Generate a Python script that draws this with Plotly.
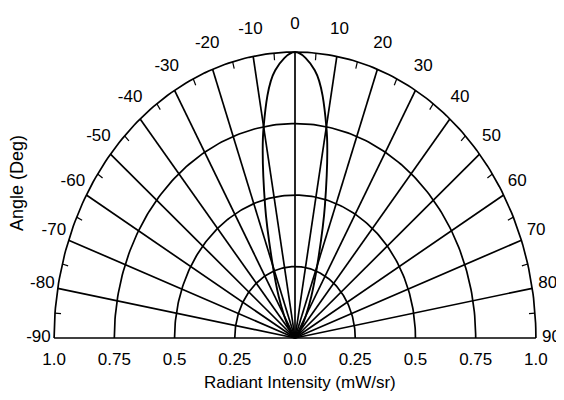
import numpy as np
import plotly.graph_objects as go

# ---- data ----
pattern_angles = [-90, -80, -70, -60, -50, -40, -35, -30, -25, -20, -15, -10, -5, 0,
                  5, 10, 15, 20, 25, 30, 35, 40, 50, 60, 70, 80, 90]
pattern_intensity = [0.0, 0.0, 0.0, 0.005, 0.01, 0.03, 0.05, 0.09, 0.16, 0.27, 0.48, 0.75, 0.94, 1.0,
                     0.94, 0.75, 0.48, 0.27, 0.16, 0.09, 0.05, 0.03, 0.01, 0.005, 0.0, 0.0, 0.0]
angle_ticks = [-90, -80, -70, -60, -50, -40, -30, -20, -10, 0, 10, 20, 30, 40, 50, 60, 70, 80, 90]
angle_labels = [str(a) for a in angle_ticks]
ring_values = [0.25, 0.5, 0.75, 1.0]
minor_angles = [-85, -75, -65, -55, -45, -35, -25, -15, -5, 5, 15, 25, 35, 45, 55, 65, 75, 85]
x_tick_vals = [-1.0, -0.75, -0.5, -0.25, 0.0, 0.25, 0.5, 0.75, 1.0]
x_tick_text = ["1.0", "0.75", "0.5", "0.25", "0.0", "0.25", "0.5", "0.75", "1.0"]


def to_xy(r, deg):
    t = np.radians(np.asarray(deg, dtype=float))
    r = np.asarray(r, dtype=float)
    return r * np.sin(t), r * np.cos(t)


FONT = "Liberation Sans, Arial"
LINE = dict(color="black", width=1.7)
fig = go.Figure()

# rings (semicircles)
gx, gy = [], []
sweep = np.linspace(-90, 90, 181)
for rv in ring_values:
    x, y = to_xy(np.full_like(sweep, rv), sweep)
    gx += list(x) + [None]
    gy += list(y) + [None]
# spokes
for a in angle_ticks:
    x, y = to_xy([0, 1.0], [a, a])
    gx += list(x) + [None]
    gy += list(y) + [None]
fig.add_trace(go.Scatter(x=gx, y=gy, mode="lines", line=LINE, hoverinfo="skip", showlegend=False))

# minor ticks on outer ring
tx, ty = [], []
for a in minor_angles:
    x, y = to_xy([0.975, 1.0], [a, a])
    tx += list(x) + [None]
    ty += list(y) + [None]
fig.add_trace(go.Scatter(x=tx, y=ty, mode="lines", line=dict(color="black", width=1.2),
                         hoverinfo="skip", showlegend=False))

# radiation pattern
px_, py_ = to_xy(pattern_intensity, pattern_angles)
fig.add_trace(go.Scatter(x=px_, y=py_, mode="lines", line=dict(color="black", width=1.9, shape="spline"),
                         showlegend=False))

# angle labels
lt = np.radians(angle_ticks)
fig.add_trace(go.Scatter(x=1.065 * np.sin(lt), y=1.095 * np.cos(lt), mode="text", text=angle_labels,
                         textfont=dict(family=FONT, size=17, color="black"),
                         hoverinfo="skip", showlegend=False, cliponaxis=False))

fig.update_layout(
    width=564, height=400,
    margin=dict(l=22, r=12, t=0, b=66),
    paper_bgcolor="white", plot_bgcolor="white",
    xaxis=dict(range=[-1.1, 1.1], tickvals=x_tick_vals, ticktext=x_tick_text,
               showgrid=False, zeroline=False, showline=False, ticks="", ticklabelstandoff=5,
               tickfont=dict(family=FONT, size=17, color="black"), fixedrange=True),
    yaxis=dict(range=[-0.014, 1.154], visible=False, fixedrange=True),
    annotations=[
        dict(text="Radiant Intensity (mW/sr)", xref="paper", yref="paper", x=0.509, y=-0.12,
             xanchor="center", yanchor="middle",
             showarrow=False, font=dict(family=FONT, size=17, color="black")),
        dict(text="Angle (Deg)", xref="paper", yref="paper", x=-0.0245, y=0.476, textangle=-90,
             xanchor="center", yanchor="middle",
             showarrow=False, font=dict(family=FONT, size=18, color="black")),
    ],
)

fig.write_html("out.html")
